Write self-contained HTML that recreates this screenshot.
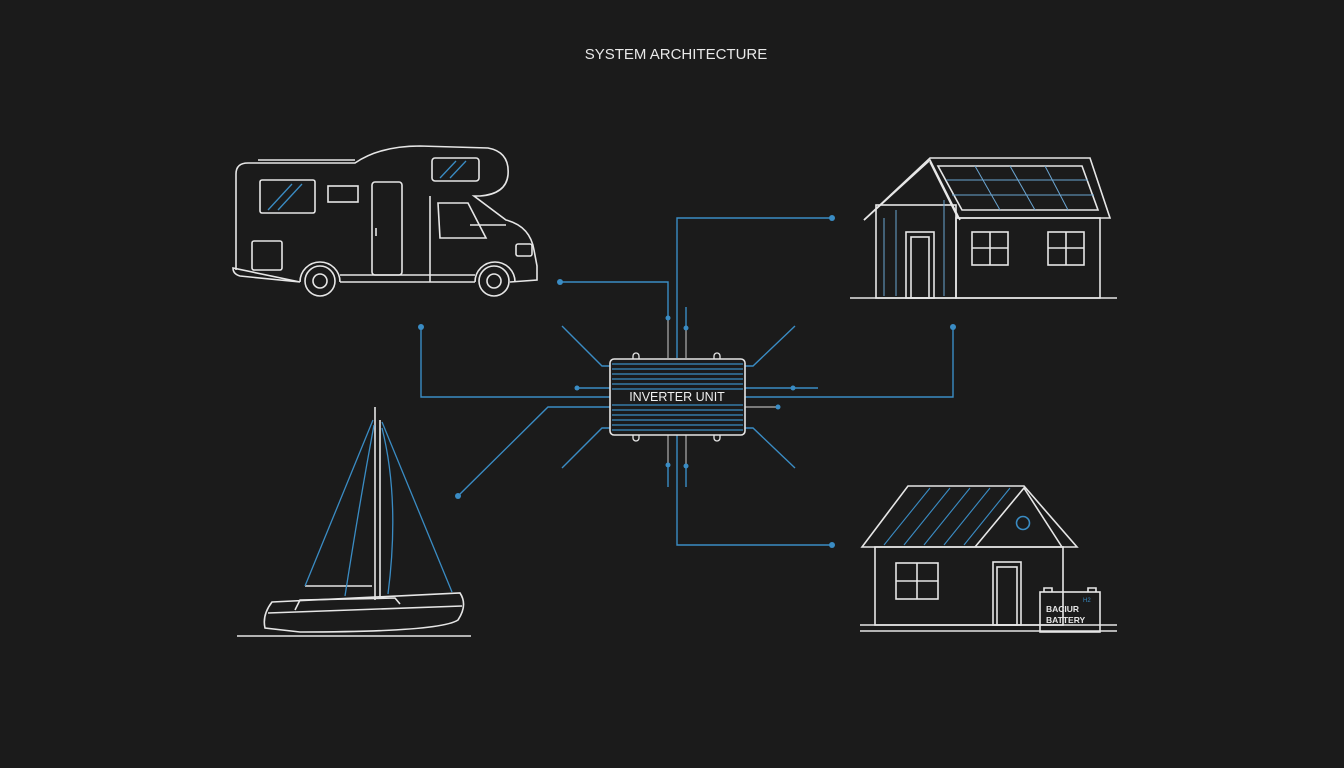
<!DOCTYPE html>
<html><head><style>
html,body{margin:0;padding:0;background:#1b1b1b;}
svg{display:block;}
text{font-family:"Liberation Sans",sans-serif;}
</style></head><body>
<svg width="1344" height="768" viewBox="0 0 1344 768" xmlns="http://www.w3.org/2000/svg">
<rect width="1344" height="768" fill="#1b1b1b"/>
<text x="676" y="59" fill="#e8e8e8" font-size="15" text-anchor="middle">SYSTEM ARCHITECTURE</text>

<g fill="none" stroke="#3a8cc4" stroke-width="1.4">
<polyline points="677,358 677,218 832,218"/>
<polyline points="677,435 677,545 832,545"/>
<polyline points="560,282 668,282 668,318"/>
<polyline points="421,327 421,397 610,397"/>
<polyline points="745,397 953,397 953,327"/>
<polyline points="458,496 548,407 610,407"/>
<line x1="577" y1="388" x2="610" y2="388"/>
<line x1="745" y1="388" x2="818" y2="388"/>
<polyline points="562,326 602,366 610,366"/>
<polyline points="562,468 602,428 610,428"/>
<polyline points="795,326 753,366 745,366"/>
<polyline points="795,468 753,428 745,428"/>
<line x1="686" y1="307" x2="686" y2="328"/>
<line x1="668" y1="465" x2="668" y2="487"/>
<line x1="686" y1="466" x2="686" y2="487"/>
</g>
<g fill="none" stroke="#9a9a9a" stroke-width="1.4">
<line x1="668" y1="318" x2="668" y2="358"/>
<line x1="686" y1="328" x2="686" y2="358"/>
<line x1="668" y1="435" x2="668" y2="465"/>
<line x1="686" y1="435" x2="686" y2="466"/>
<line x1="745" y1="407" x2="778" y2="407"/>
</g>
<g fill="#3a8cc4">
<circle cx="832" cy="218" r="3"/><circle cx="832" cy="545" r="3"/>
<circle cx="560" cy="282" r="3"/><circle cx="421" cy="327" r="3"/>
<circle cx="953" cy="327" r="3"/><circle cx="458" cy="496" r="3"/>
<circle cx="577" cy="388" r="2.5"/><circle cx="793" cy="388" r="2.5"/>
<circle cx="778" cy="407" r="2.5"/><circle cx="668" cy="318" r="2.5"/>
<circle cx="686" cy="328" r="2.5"/><circle cx="668" cy="465" r="2.5"/>
<circle cx="686" cy="466" r="2.5"/>
</g>

<!-- inverter -->
<g stroke="#3a8cc4" stroke-width="1.3">
<line x1="612" y1="364" x2="743" y2="364"/><line x1="612" y1="369" x2="743" y2="369"/>
<line x1="612" y1="374" x2="743" y2="374"/><line x1="612" y1="379" x2="743" y2="379"/>
<line x1="612" y1="384" x2="743" y2="384"/><line x1="612" y1="389" x2="743" y2="389"/>
<line x1="612" y1="405" x2="743" y2="405"/><line x1="612" y1="410" x2="743" y2="410"/>
<line x1="612" y1="415" x2="743" y2="415"/><line x1="612" y1="420" x2="743" y2="420"/>
<line x1="612" y1="425" x2="743" y2="425"/><line x1="612" y1="430" x2="743" y2="430"/>
</g>
<rect x="610" y="359" width="135" height="76" rx="4" fill="none" stroke="#e6e6e6" stroke-width="1.6"/>
<g fill="none" stroke="#e6e6e6" stroke-width="1.3">
<path d="M633,359 v-3 a3,3 0 0 1 6,0 v3"/><path d="M714,359 v-3 a3,3 0 0 1 6,0 v3"/>
<path d="M633,435 v3 a3,3 0 0 0 6,0 v-3"/><path d="M714,435 v3 a3,3 0 0 0 6,0 v-3"/>
</g>
<text x="677" y="401" fill="#f0f0f0" font-size="12.5" text-anchor="middle">INVERTER UNIT</text>

<!-- camper -->
<g fill="none" stroke="#e6e6e6" stroke-width="1.6">
<path d="M236,174 Q236,163 248,163 L355,163 Q380,146 420,146 L488,148 Q510,152 508,175 Q506,194 480,196 L474,196 L506,220 Q530,226 534,250 L537,266 L537,280 L510,282 M475,282 L340,282 M300,282 L240,276 Q233,274 233,268 Z"/>
<path d="M236,174 L236,270"/>
<line x1="258" y1="160" x2="355" y2="160"/>
<rect x="432" y="158" width="47" height="23" rx="3"/>
<rect x="260" y="180" width="55" height="33" rx="2"/>
<rect x="328" y="186" width="30" height="16"/>
<rect x="372" y="182" width="30" height="93" rx="3"/>
<line x1="376" y1="228" x2="376" y2="236"/>
<rect x="252" y="241" width="30" height="29" rx="2"/>
<path d="M430,196 L430,282"/>
<path d="M438,203 L468,203 L486,238 L440,238 Z"/>
<line x1="470" y1="225" x2="506" y2="225"/>
<rect x="516" y="244" width="16" height="12" rx="2"/>
<path d="M300,282 a20,20 0 0 1 40,0"/><circle cx="320" cy="281" r="15"/><circle cx="320" cy="281" r="7"/>
<path d="M475,282 a20,20 0 0 1 40,0"/><circle cx="494" cy="281" r="15"/><circle cx="494" cy="281" r="7"/>
<line x1="340" y1="275" x2="475" y2="275"/>
</g>
<g stroke="#3a8cc4" stroke-width="1.3"><line x1="268" y1="210" x2="292" y2="184"/><line x1="278" y1="210" x2="302" y2="184"/><line x1="440" y1="178" x2="456" y2="161"/><line x1="450" y1="178" x2="466" y2="161"/></g>

<!-- house 1 -->
<g fill="none" stroke="#e6e6e6" stroke-width="1.6">
<polyline points="864,220 930,158 1090,158 1110,218 958,218 930,162"/>
<polyline points="864,220 930,160 960,220"/>
<rect x="876" y="205" width="80" height="93"/>
<rect x="956" y="218" width="144" height="80"/>
<line x1="850" y1="298" x2="1117" y2="298"/>
<rect x="906" y="232" width="28" height="66"/><rect x="911" y="237" width="18" height="61"/>
<rect x="972" y="232" width="36" height="33"/><line x1="990" y1="232" x2="990" y2="265"/><line x1="972" y1="248" x2="1008" y2="248"/>
<rect x="1048" y="232" width="36" height="33"/><line x1="1066" y1="232" x2="1066" y2="265"/><line x1="1048" y1="248" x2="1084" y2="248"/>
<polygon points="938,166 1082,166 1098,210 962,210"/>
</g>
<g stroke="#6aa4d0" stroke-width="1"><line x1="884" y1="218" x2="884" y2="296"/><line x1="896" y1="210" x2="896" y2="296"/><line x1="944" y1="200" x2="944" y2="296"/>
<line x1="946" y1="180" x2="1088" y2="180"/><line x1="952" y1="195" x2="1094" y2="195"/>
<line x1="975" y1="166" x2="1000" y2="210"/><line x1="1010" y1="166" x2="1035" y2="210"/><line x1="1045" y1="166" x2="1068" y2="210"/></g>

<!-- sailboat -->
<g fill="none" stroke="#e6e6e6" stroke-width="1.6">
<line x1="375" y1="407" x2="375" y2="600"/>
<line x1="380" y1="420" x2="380" y2="598"/>
<path d="M272,602 L460,593 Q468,605 458,620 Q440,632 300,632 L265,628 Q262,615 272,602 Z"/>
<line x1="268" y1="613" x2="462" y2="606"/>
<polyline points="295,610 300,600 395,598 400,604"/>
<line x1="305" y1="586" x2="372" y2="586"/>
<line x1="237" y1="636" x2="471" y2="636"/>
</g>
<g fill="none" stroke="#3a8cc4" stroke-width="1.3">
<path d="M373,420 L305,586"/><path d="M374,425 Q360,500 345,596"/>
<path d="M382,422 L452,592"/><path d="M382,428 Q400,500 388,594"/>
</g>

<!-- house 2 -->
<g fill="none" stroke="#e6e6e6" stroke-width="1.6">
<polygon points="862,547 908,486 1024,486 1077,547"/>
<polyline points="975,547 1024,488 1062,547"/>
<rect x="875" y="547" width="188" height="78"/>
<line x1="860" y1="625" x2="1117" y2="625"/><line x1="860" y1="631" x2="1117" y2="631"/>
<rect x="896" y="563" width="42" height="36"/><line x1="917" y1="563" x2="917" y2="599"/><line x1="896" y1="581" x2="938" y2="581"/>
<rect x="993" y="562" width="28" height="63"/><rect x="997" y="567" width="20" height="58"/>
<circle cx="1023" cy="523" r="6.5" stroke="#3a8cc4"/>
<rect x="1040" y="592" width="60" height="40"/>
<path d="M1044,592 v-4 h8 v4 M1088,592 v-4 h8 v4"/>
</g>
<g stroke="#3a8cc4" stroke-width="1.1"><line x1="884" y1="545" x2="930" y2="488"/><line x1="904" y1="545" x2="950" y2="488"/><line x1="924" y1="545" x2="970" y2="488"/><line x1="944" y1="545" x2="990" y2="488"/><line x1="964" y1="545" x2="1010" y2="488"/></g>
<text x="1046" y="612" fill="#e6e6e6" font-size="8.5" font-weight="bold">BACIUR</text>
<text x="1046" y="623" fill="#e6e6e6" font-size="8.5" font-weight="bold">BATTERY</text>
<text x="1083" y="602" fill="#3a8cc4" font-size="6">H2</text>
</svg>
</body></html>
